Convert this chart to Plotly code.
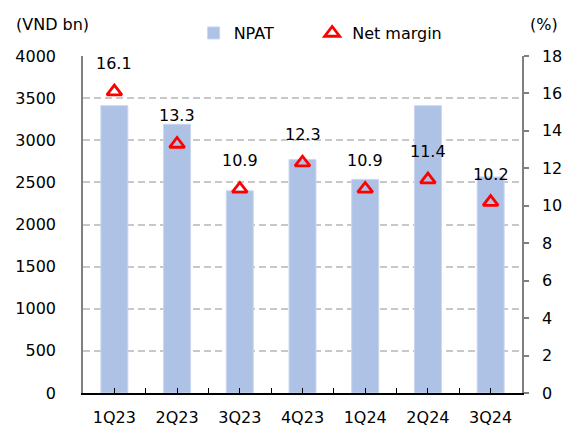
import plotly.graph_objects as go

quarters = ["1Q23", "2Q23", "3Q23", "4Q23", "1Q24", "2Q24", "3Q24"]
npat = [3410, 3190, 2400, 2770, 2535, 3410, 2565]
net_margin = [16.1, 13.3, 10.9, 12.3, 10.9, 11.4, 10.2]

FONT = "DejaVu Sans"
xpos = list(range(len(quarters)))

fig = go.Figure()
fig.add_trace(go.Bar(
    x=xpos, y=npat, name="NPAT", width=0.43,
    marker=dict(color="#aec2e6", line=dict(color="#c9d6ee", width=1)),
    yaxis="y", legend="legend",
))
fig.add_trace(go.Scatter(
    x=xpos, y=net_margin, name="Net margin", mode="markers",
    marker=dict(symbol="triangle-up-open", size=13, color="#ff0000",
                line=dict(color="#ff0000", width=2.8)),
    yaxis="y2", legend="legend2",
))

for xi, v in zip(xpos, net_margin):
    fig.add_annotation(x=xi, y=v, yref="y2", xref="x", text=f"{v:.1f}",
                       showarrow=False, yshift=28,
                       font=dict(family=FONT, size=16, color="#000000"))

fig.add_annotation(xref="paper", yref="paper", x=-0.157, y=1.092, xanchor="left",
                   yanchor="middle", text="(VND bn)", showarrow=False,
                   font=dict(family=FONT, size=16, color="#000000"))
fig.add_annotation(xref="paper", yref="paper", x=1.087, y=1.092, xanchor="right",
                   yanchor="middle", text="(%)", showarrow=False,
                   font=dict(family=FONT, size=16, color="#000000"))

legend_common = dict(orientation="h", y=1.068, xanchor="left", yanchor="middle",
                     font=dict(family=FONT, size=16, color="#000000"),
                     itemwidth=30, bgcolor="rgba(0,0,0,0)")

fig.update_layout(
    width=562, height=426,
    margin=dict(l=83, r=40, t=56, b=33, autoexpand=False),
    paper_bgcolor="white", plot_bgcolor="white",
    font=dict(family=FONT, size=16, color="#000000"),
    showlegend=True,
    legend=dict(x=0.252, **legend_common),
    legend2=dict(x=0.522, **legend_common),
    xaxis=dict(
        range=[-0.5, 6.5], tickmode="array", tickvals=xpos, ticktext=quarters,
        showgrid=False, zeroline=False, showline=True, linecolor="#000000", linewidth=1.5,
        ticks="inside", ticklen=5, tickcolor="#000000", tickwidth=1.2,
        minor=dict(tickmode="linear", tick0=0.5, dtick=1, ticks="inside", ticklen=5,
                   tickcolor="#000000", tickwidth=1.2, showgrid=False),
        ticklabelstandoff=9,
        tickfont=dict(family=FONT, size=16),
    ),
    yaxis=dict(
        range=[0, 4000], tickmode="linear", tick0=0, dtick=500,
        showgrid=True, gridcolor="#c8c8c8", gridwidth=2, griddash="7px,4px",
        zeroline=False, showline=True, linecolor="#808080", linewidth=1.5,
        ticks="", ticklabelstandoff=22,
        tickfont=dict(family=FONT, size=16),
    ),
    yaxis2=dict(
        range=[0, 18], tickmode="linear", tick0=0, dtick=2, overlaying="y", side="right",
        showgrid=False, zeroline=False, showline=True, linecolor="#808080", linewidth=1.5,
        ticks="outside", ticklen=5, tickcolor="#808080", tickwidth=1.5,
        ticklabelstandoff=10,
        tickfont=dict(family=FONT, size=16),
    ),
)

fig.write_html("out.html")
